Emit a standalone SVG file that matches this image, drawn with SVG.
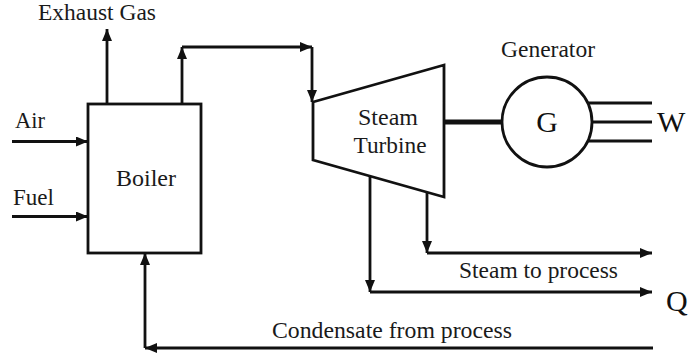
<svg xmlns="http://www.w3.org/2000/svg" width="690" height="363" viewBox="0 0 690 363">
  <style>
    .ln { fill: none; stroke: #111; stroke-width: 2.8; }
    .shaft { fill: none; stroke: #111; stroke-width: 5; }
    .arr { fill: none; stroke: #111; stroke-width: 2.8; marker-end: url(#head); }
    .shape { fill: #fff; stroke: #111; stroke-width: 2.8; }
    .lbl { font-family: "Liberation Serif", "Times New Roman", serif; font-size: 23.5px; fill: #1a1a1a; }
    .big { font-family: "Liberation Serif", "Times New Roman", serif; font-size: 30px; fill: #111; }
  </style>
  <defs>
    <marker id="head" markerUnits="userSpaceOnUse" markerWidth="12" markerHeight="10" refX="12" refY="5" orient="auto">
      <path d="M0,0 L12,5 L0,10 z" fill="#111"/>
    </marker>
  </defs>

  <rect width="690" height="363" fill="#fff"/>

  <!-- flow lines -->
  <g id="connectors">
    <!-- inputs to the boiler -->
    <path class="arr" d="M12,141.5 L88,141.5"/>
    <path class="arr" d="M12,216.5 L88,216.5"/>
    <!-- flue gas out -->
    <path class="arr" d="M107,104 L107,29"/>
    <!-- live steam to the turbine inlet -->
    <path class="arr" d="M182,104 L182,47"/>
    <path class="arr" d="M182,47 L312,47"/>
    <path class="arr" d="M312,47 L312,102"/>
    <!-- extraction steam to process -->
    <path class="arr" d="M427,192 L427,253"/>
    <path class="arr" d="M427,253 L652,253"/>
    <!-- exhaust steam, heat Q -->
    <path class="arr" d="M370,176 L370,292"/>
    <path class="arr" d="M370,292 L652,292"/>
    <!-- condensate return -->
    <path class="arr" d="M653,348 L145,348"/>
    <path class="arr" d="M145,348 L145,253"/>
    <!-- turbine shaft -->
    <path class="shaft" d="M444,122 L502,122"/>
    <!-- electrical output -->
    <path class="ln" d="M588,103 L652,103 M592,122 L652,122 M588,141 L652,141"/>
  </g>

  <g id="boiler">
    <rect class="shape" x="88" y="104" width="113" height="149"/>
    <text class="lbl" x="146" y="186" text-anchor="middle" textLength="60" lengthAdjust="spacingAndGlyphs">Boiler</text>
  </g>

  <g id="turbine">
    <polygon class="shape" points="313,102 444,65 444,197 313,160"/>
    <text class="lbl" x="388" y="125" text-anchor="middle" textLength="60" lengthAdjust="spacingAndGlyphs">Steam</text>
    <text class="lbl" x="390" y="153" text-anchor="middle" textLength="73" lengthAdjust="spacingAndGlyphs">Turbine</text>
  </g>

  <g id="generator">
    <circle class="shape" cx="547" cy="122" r="45"/>
    <text class="big" x="547" y="132" text-anchor="middle">G</text>
    <text class="lbl" x="548" y="57" text-anchor="middle" textLength="94" lengthAdjust="spacingAndGlyphs">Generator</text>
  </g>

  <g id="labels">
    <text class="lbl" x="38" y="20" textLength="118" lengthAdjust="spacingAndGlyphs">Exhaust Gas</text>
    <text class="lbl" x="15" y="128" textLength="30" lengthAdjust="spacingAndGlyphs">Air</text>
    <text class="lbl" x="13" y="205" textLength="41" lengthAdjust="spacingAndGlyphs">Fuel</text>
    <text class="lbl" x="459" y="278" textLength="159" lengthAdjust="spacingAndGlyphs">Steam to process</text>
    <text class="lbl" x="272" y="338" textLength="240" lengthAdjust="spacingAndGlyphs">Condensate from process</text>
    <text class="big" x="657" y="132">W</text>
    <text class="big" x="666" y="311">Q</text>
  </g>
</svg>
